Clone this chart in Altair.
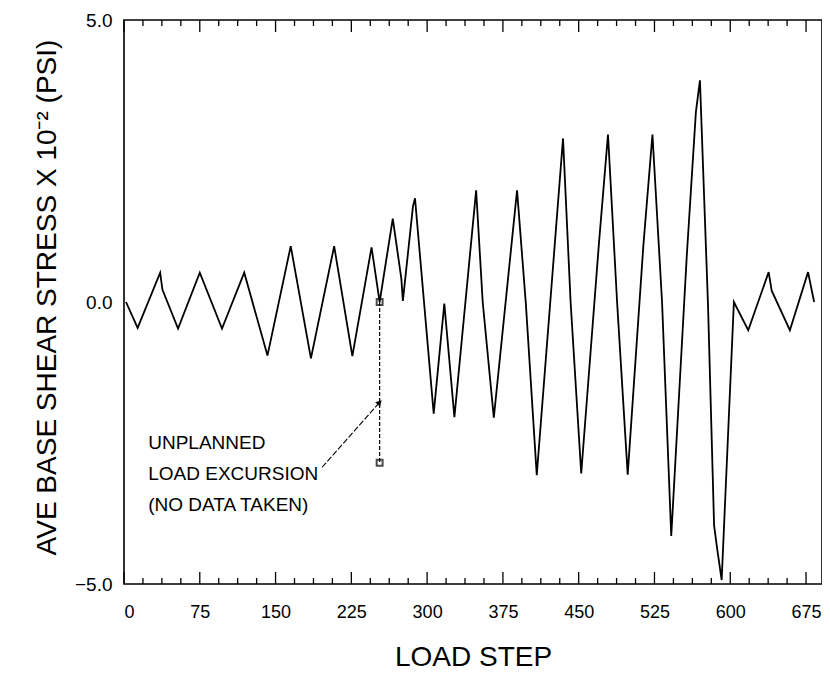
import altair as alt
import pandas as pd

# ---- data ----
steps = [2, 13.5, 35.8, 38, 53.5, 75, 97, 119, 142, 165, 185, 208, 226, 245, 253,
         266, 274.5, 276, 286, 288, 306.5, 317, 327, 348.5, 355, 366, 389, 397.7,
         408.5, 434.5, 442, 452.5, 470, 479, 488, 498.5, 514, 523, 532.5, 541.6,
         557, 566, 570, 578, 584, 587, 591.5, 603.6, 617.8, 638, 641, 659, 677, 683]
stress = [0.0, -0.46, 0.52, 0.22, -0.47, 0.52, -0.47, 0.52, -0.95, 0.99, -1.0, 0.99, -0.96, 0.97, 0.0,
          1.48, 0.41, 0.02, 1.7, 1.84, -1.98, -0.03, -2.04, 1.98, 0.0, -2.05, 1.98, -0.03,
          -3.07, 2.9, 0.0, -3.04, 1.03, 2.97, 0.0, -3.06, 1.0, 2.97, 0.0, -4.15,
          0.83, 3.37, 3.93, -0.06, -3.96, -4.37, -4.93, 0.0, -0.5, 0.53, 0.2, -0.5, 0.53, 0.0]

major_ticks = [0, 75, 150, 225, 300, 375, 450, 525, 600, 675]
minor_ticks = [18.75 * i for i in range(37) if i % 4 != 0]
y_ticks = [-5.0, 0.0, 5.0]

excursion_step = [253, 253]
excursion_stress = [0.0, -2.85]
note_lines = ["UNPLANNED", "LOAD EXCURSION", "(NO DATA TAKEN)"]
note_x = [24, 24, 24]
note_y = [-2.5, -3.05, -3.6]
arrow_from = (196, -2.93)
arrow_to = (253, -1.78)

X_DOMAIN = [0, 690.8]
Y_DOMAIN = [-5, 5]
W, H = 698, 564
FONT = "Liberation Sans"

xs = alt.Scale(domain=X_DOMAIN, nice=False, zero=False)
ys = alt.Scale(domain=Y_DOMAIN, nice=False)

XAXIS = alt.Axis(values=major_ticks, ticks=False, domain=False, grid=False,
                 labelFontSize=18, labelPadding=19, labelFont=FONT,
                 labelColor="black", title="LOAD STEP", titleFont=FONT,
                 titleFontSize=28, titleFontWeight="normal", titleColor="black",
                 titleY=81, titleBaseline="alphabetic")
YAXIS = alt.Axis(values=y_ticks, format=".1f", ticks=False, domain=False,
                 grid=False, labelFontSize=19, labelPadding=12, labelFont=FONT,
                 labelColor="black",
                 title="AVE BASE SHEAR STRESS X 10\u207b\u00b2 (PSI)",
                 titleFont=FONT, titleFontSize=28, titleFontWeight="normal",
                 titleColor="black", titleX=-77, titleY=H / 2 - 5,
                 titleAngle=-90, titleAlign="center", titleBaseline="middle")


def X(field):
    return alt.X(field, scale=xs, axis=XAXIS)


def Y(field):
    return alt.Y(field, scale=ys, axis=YAXIS)


curve = pd.DataFrame({"step": steps, "stress": stress})

line = alt.Chart(curve).mark_line(color="black", strokeWidth=1.8).encode(
    x=X("step:Q"), y=Y("stress:Q"), order="idx:Q",
).transform_window(idx="row_number()")

maj = pd.DataFrame({"step": major_ticks})
mnr = pd.DataFrame({"step": minor_ticks})


def ticks(df, y0, y1):
    return alt.Chart(df).mark_rule(color="black", strokeWidth=1.3).encode(
        x=X("step:Q"), y=alt.value(y0), y2=alt.value(y1))


tick_layers = [ticks(maj, H, H - 12), ticks(mnr, H, H - 6),
               ticks(maj, 0, 12), ticks(mnr, 0, 6)]

exc = pd.DataFrame({"step": excursion_step, "stress": excursion_stress})
dashed = alt.Chart(exc).mark_line(color="black", strokeWidth=1.2, strokeDash=[4, 2]).encode(
    x=X("step:Q"), y=Y("stress:Q"))
marks = alt.Chart(exc).mark_point(shape="square", filled=False, color="black",
                                  strokeWidth=2, size=35).encode(
    x=X("step:Q"), y=Y("stress:Q"))

arr = pd.DataFrame({"step": [arrow_from[0]], "stress": [arrow_from[1]],
                    "step2": [arrow_to[0]], "stress2": [arrow_to[1]]})
arrow_line = alt.Chart(arr).mark_rule(color="black", strokeWidth=1.1, strokeDash=[6, 2]).encode(
    x=X("step:Q"), y=Y("stress:Q"), x2="step2:Q", y2="stress2:Q")
arrow_head = alt.Chart(arr).mark_point(shape="triangle-up", filled=True, color="black",
                                       size=45, angle=44, opacity=1).encode(
    x=X("step2:Q"), y=Y("stress2:Q"))

notes = pd.DataFrame({"step": note_x, "stress": note_y, "t": note_lines})
note_text = alt.Chart(notes).mark_text(align="left", baseline="middle", font=FONT,
                                       fontSize=19, color="black").encode(
    x=X("step:Q"), y=Y("stress:Q"), text="t:N")

chart = alt.layer(line, *tick_layers, dashed, marks, arrow_line, arrow_head, note_text).properties(
    width=W, height=H,
    background="white",
    autosize=alt.AutoSizeParams(type="none"),
    padding={"left": 116, "top": 12, "right": 0, "bottom": 88},
).configure_view(stroke="black", strokeWidth=1.6)

chart.save("out.html", embed_options={"renderer": "svg", "actions": False})
